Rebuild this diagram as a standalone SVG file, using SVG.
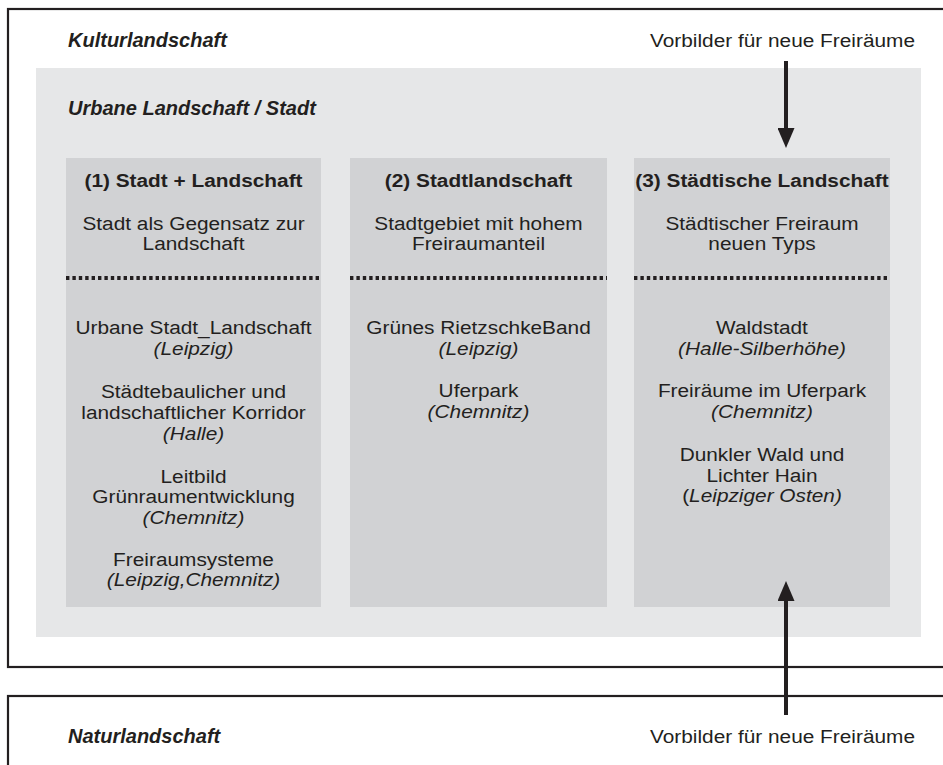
<svg xmlns="http://www.w3.org/2000/svg" width="943" height="765" viewBox="0 0 943 765">
<style>
text{font-family:"Liberation Sans",Arial,sans-serif;fill:#231f20;font-size:18.6px}
.t{font-weight:bold;font-style:italic;font-size:20px}
.h{font-weight:bold;text-anchor:middle}
.c{text-anchor:middle}
.i{font-style:italic}
.frame{fill:none;stroke:#231f20;stroke-width:2.2}
.col{fill:#d1d2d4}
.dot{stroke:#231f20;stroke-width:3.8;stroke-dasharray:3.4 3}
.arr{stroke:#231f20;stroke-width:4;fill:none}
</style>
<defs>
<marker id="ah" markerUnits="userSpaceOnUse" markerWidth="20" markerHeight="17" viewBox="0 0 20 17" refX="0" refY="8.5" orient="auto">
<path d="M0,0 L20,8.5 L0,17 Z" fill="#231f20"/>
</marker>
</defs>
<rect width="943" height="765" fill="#fff"/>
<g id="kulturlandschaft">
<rect class="frame" x="8" y="9" width="950" height="658"/>
<text class="t" x="68" y="47">Kulturlandschaft</text>
<text transform="translate(915 47) scale(1.12 1)" text-anchor="end">Vorbilder für neue Freiräume</text>
</g>
<g id="naturlandschaft">
<rect class="frame" x="8" y="696" width="950" height="100"/>
<text class="t" x="68" y="743">Naturlandschaft</text>
<text transform="translate(915 743) scale(1.12 1)" text-anchor="end">Vorbilder für neue Freiräume</text>
</g>
<g id="urbane-landschaft">
<rect x="36" y="68" width="885" height="569" fill="#e6e7e8"/>
<text class="t" x="68" y="115">Urbane Landschaft / Stadt</text>
</g>
<g id="col1">
<rect class="col" x="66" y="158" width="255" height="449"/>
<line class="dot" x1="66" y1="278" x2="321" y2="278"/>
<g transform="translate(193.5 0) scale(1.12 1)">
<text class="h" x="0" y="187">(1) Stadt + Landschaft</text>
<text class="c" x="0" y="230">Stadt als Gegensatz zur</text>
<text class="c" x="0" y="250">Landschaft</text>
<text class="c" x="0" y="334">Urbane Stadt_Landschaft</text>
<text class="c i" x="0" y="355">(Leipzig)</text>
<text class="c" x="0" y="398">Städtebaulicher und</text>
<text class="c" x="0" y="419">landschaftlicher Korridor</text>
<text class="c i" x="0" y="440">(Halle)</text>
<text class="c" x="0" y="483">Leitbild</text>
<text class="c" x="0" y="503">Grünraumentwicklung</text>
<text class="c i" x="0" y="524">(Chemnitz)</text>
<text class="c" x="0" y="566">Freiraumsysteme</text>
<text class="c i" x="0" y="586">(Leipzig,Chemnitz)</text>
</g>
</g>
<g id="col2">
<rect class="col" x="350" y="158" width="257" height="449"/>
<line class="dot" x1="350" y1="278" x2="607" y2="278"/>
<g transform="translate(478.5 0) scale(1.12 1)">
<text class="h" x="0" y="187">(2) Stadtlandschaft</text>
<text class="c" x="0" y="230">Stadtgebiet mit hohem</text>
<text class="c" x="0" y="250">Freiraumanteil</text>
<text class="c" x="0" y="334">Grünes RietzschkeBand</text>
<text class="c i" x="0" y="355">(Leipzig)</text>
<text class="c" x="0" y="397">Uferpark</text>
<text class="c i" x="0" y="418">(Chemnitz)</text>
</g>
</g>
<g id="col3">
<rect class="col" x="634" y="158" width="256" height="449"/>
<line class="dot" x1="634" y1="278" x2="890" y2="278"/>
<g transform="translate(762 0) scale(1.12 1)">
<text class="h" x="0" y="187">(3) Städtische Landschaft</text>
<text class="c" x="0" y="230">Städtischer Freiraum</text>
<text class="c" x="0" y="250">neuen Typs</text>
<text class="c" x="0" y="334">Waldstadt</text>
<text class="c i" x="0" y="355">(Halle-Silberhöhe)</text>
<text class="c" x="0" y="397">Freiräume im Uferpark</text>
<text class="c i" x="0" y="418">(Chemnitz)</text>
<text class="c" x="0" y="461">Dunkler Wald und</text>
<text class="c" x="0" y="482">Lichter Hain</text>
<text class="c" x="0" y="502">(<tspan class="i">Leipziger Osten)</tspan></text>
</g>
</g>
<g id="connectors">
<line class="arr" x1="786" y1="61" x2="786" y2="128" marker-end="url(#ah)"/>
<line class="arr" x1="786" y1="715" x2="786" y2="601" marker-end="url(#ah)"/>
</g>
</svg>
